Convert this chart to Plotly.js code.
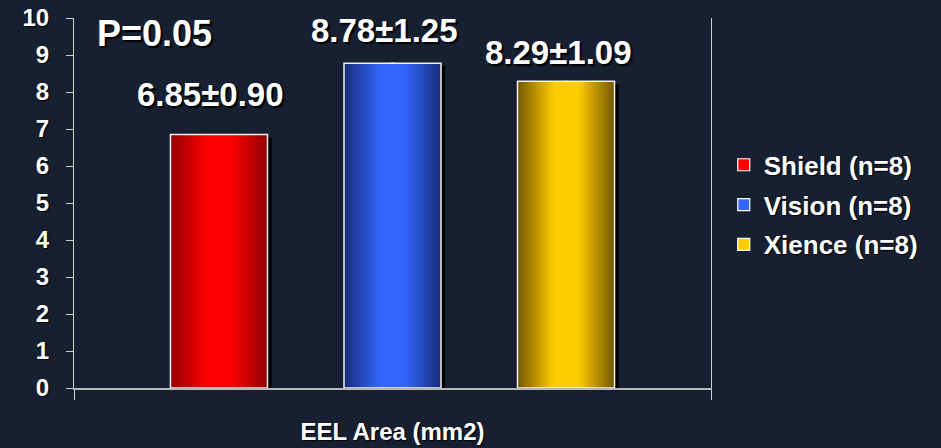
<!DOCTYPE html>
<html>
<head>
<meta charset="utf-8">
<script src="https://cdn.plot.ly/plotly-3.0.1.min.js"></script>
<style>html,body{margin:0;padding:0;background:#172030;}#chart{width:941px;height:448px;}</style>
</head>
<body>
<div id="chart"></div>
<script>
// ---- data ----
const categories = ['EEL Area (mm2)'];
const seriesNames = ['Shield (n=8)', 'Vision (n=8)', 'Xience (n=8)'];
const means = [6.85, 8.78, 8.29];
const sds = [0.90, 1.25, 1.09];
const pValueText = 'P=0.05';

// ---- style ----
const edgeColors = [[150, 0, 0], [26, 46, 128], [122, 92, 0]];
const centerColors = [[255, 0, 0], [51, 102, 255], [255, 204, 0]];
const BAR_W = 0.1523;      // bar width in category units
const SLOT = 0.2724;       // spacing between bar centres
const LAYERS = 16;
const FONT = 'Liberation Sans, Arial, sans-serif';
const labelYShift = [40, 33, 29];

function rgb(c) { return 'rgb(' + c.map(v => Math.round(v)).join(',') + ')'; }
function mix(a, b, t) { return a.map((v, k) => v + (b[k] - v) * t); }

const traces = [];
const centres = means.map((_, i) => (i - 1) * SLOT);

// legend representatives (hidden behind the bars)
means.forEach((m, i) => {
  traces.push({
    type: 'bar', x: categories, y: [means[i]], name: seriesNames[i],
    legendgroup: 'g' + i, width: 0.002, offset: centres[i] - 0.001,
    marker: { color: rgb(centerColors[i]), line: { color: '#ffffff', width: 1.2 } },
    hoverinfo: 'skip'
  });
});
// drop shadows
means.forEach((m, i) => {
  traces.push({
    type: 'bar', x: categories, y: [means[i]], base: -0.08, showlegend: false,
    legendgroup: 'g' + i,
    width: BAR_W, offset: centres[i] - BAR_W / 2 + 0.0065,
    marker: { color: '#000000', line: { width: 0 } }, hoverinfo: 'skip'
  });
});
// gradient layers
means.forEach((m, i) => {
  for (let k = 0; k < LAYERS; k++) {
    const f = 1 - k / LAYERS;
    const d = f / 2;
    const t = Math.max(0, Math.min(1, (0.5 - d) / 0.36));
    traces.push({
      type: 'bar', x: categories, y: [means[i]], showlegend: false,
      legendgroup: 'g' + i,
      width: BAR_W * f, offset: centres[i] - BAR_W * f / 2,
      marker: { color: rgb(mix(edgeColors[i], centerColors[i], t)), line: { width: 0 } },
      hoverinfo: 'skip'
    });
  }
});
// white outlines
means.forEach((m, i) => {
  traces.push({
    type: 'bar', x: categories, y: [means[i]], showlegend: false,
    legendgroup: 'g' + i,
    width: BAR_W, offset: centres[i] - BAR_W / 2,
    marker: { color: 'rgba(0,0,0,0)', line: { color: '#f0f0f0', width: 1.5 } },
    hoverinfo: 'skip'
  });
});

const annotations = means.map((m, i) => ({
  x: centres[i], y: m, xref: 'x', yref: 'y',
  text: m.toFixed(2) + '±' + sds[i].toFixed(2),
  showarrow: false, xanchor: 'center', yanchor: 'middle',
  xshift: -8, yshift: labelYShift[i],
  font: { family: FONT, size: 33, color: '#ffffff', weight: 'bold', shadow: '2px 2px 1px #000' }
}));
annotations.push({
  x: 0.127, y: 0.959, xref: 'paper', yref: 'paper', text: pValueText,
  showarrow: false, xanchor: 'center', yanchor: 'middle',
  font: { family: FONT, size: 36, color: '#ffffff', weight: 'bold', shadow: '2px 2px 1px #000' }
});

const layout = {
  width: 941, height: 448,
  margin: { l: 74, r: 230, t: 18, b: 60 },
  paper_bgcolor: '#172030', plot_bgcolor: '#172030',
  barmode: 'overlay',
  showlegend: true,
  font: { family: FONT, color: '#ffffff', weight: 'bold' },
  xaxis: {
    type: 'category', range: [-0.5, 0.5], fixedrange: true,
    showline: true, linecolor: '#b8b8b8', linewidth: 2,
    ticks: 'outside', tickson: 'boundaries', ticklen: 10, tickcolor: '#d0d0d0', tickwidth: 1,
    ticklabelstandoff: 21,
    tickfont: { family: FONT, size: 24, color: '#ffffff', weight: 'bold', shadow: '1px 1px 1px #000' },
    showgrid: false, zeroline: false
  },
  yaxis: {
    range: [0, 10], dtick: 1, fixedrange: true,
    showline: true, linecolor: '#d0d0d0', linewidth: 1, mirror: true,
    ticks: 'outside', ticklen: 7, tickcolor: '#d0d0d0', tickwidth: 1,
    ticklabelstandoff: 12,
    tickfont: { family: FONT, size: 24, color: '#ffffff', weight: 'bold', shadow: '1px 1px 1px #000' },
    showgrid: false, zeroline: false
  },
  legend: {
    x: 1.02, xanchor: 'left', y: 0.495, yanchor: 'middle',
    bgcolor: 'rgba(0,0,0,0)', tracegroupgap: 3, traceorder: 'grouped',
    font: { family: FONT, size: 26, color: '#ffffff', weight: 'bold', shadow: '1px 1px 1px #000' }
  },
  annotations: annotations
};

Plotly.newPlot('chart', traces, layout, { displayModeBar: false, staticPlot: true });
</script>
</body>
</html>
